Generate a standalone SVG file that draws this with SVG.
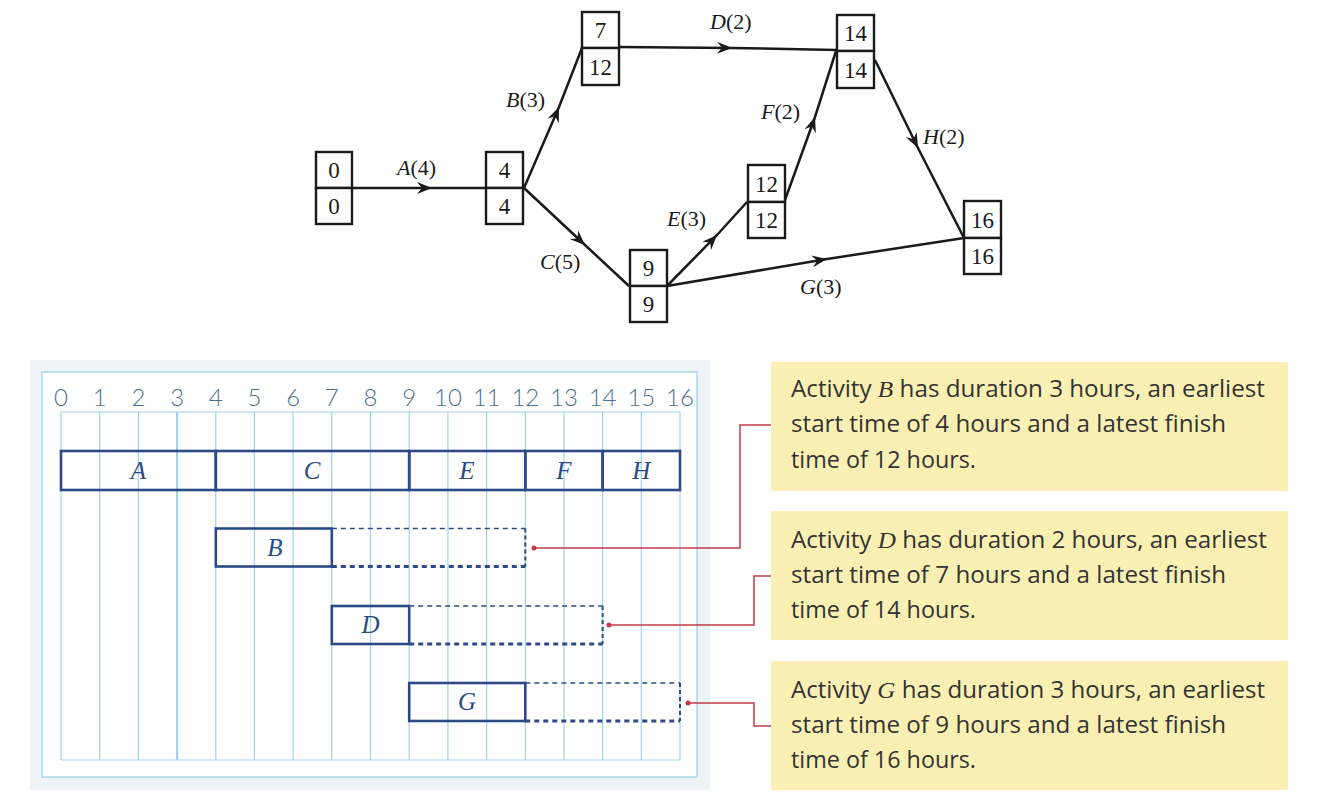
<svg xmlns="http://www.w3.org/2000/svg" width="1334" height="811" viewBox="0 0 1334 811">
<style>
.nb{fill:#fff;stroke:#1a1a1a;stroke-width:2.4}
.nn{font-family:"Liberation Serif",serif;font-size:23px;fill:#1a1a1a;text-anchor:middle}
.el{font-family:"Liberation Serif",serif;font-size:22px;fill:#1a1a1a}
.it{font-style:italic}
.edge{fill:none;stroke:#1a1a1a;stroke-width:2.5;marker-mid:url(#ah)}
.grid{stroke:#9fd4e8;stroke-width:1.2}
.tick{font-family:Lato,"DejaVu Sans",sans-serif;font-weight:300;font-size:24px;fill:#4d6f8e;text-anchor:middle}
.bar{fill:#fff;stroke:#2b4a86;stroke-width:2.6}
.bl{font-family:"Liberation Serif",serif;font-style:italic;font-size:25px;fill:#2b4a86;text-anchor:middle}
.dt{stroke:#2b4a86;stroke-width:1.5;stroke-dasharray:5 4;fill:none}
.db{stroke:#2b4a86;stroke-width:3;stroke-dasharray:5 4;fill:none}
.dv{stroke:#2b4a86;stroke-width:2;stroke-dasharray:4 3;fill:none}
.red{fill:none;stroke:#c23b47;stroke-width:1.5}
.box{fill:#fbf0b4}
.tx{font-family:"Open Sans","Liberation Sans",sans-serif;font-size:23px;fill:#333}
.tx .v{font-family:"Liberation Serif",serif;font-style:italic;font-size:24px}
</style>
<defs>
<marker id="ah" markerUnits="userSpaceOnUse" markerWidth="20" markerHeight="14" viewBox="-16 -7 18 14" refX="0" refY="0" orient="auto">
<path d="M0,0 L-15,-6 L-10,0 L-15,6 Z" fill="#1a1a1a"/>
</marker>
</defs>

<g id="connectors">
<path class="edge" d="M352,188 L432,188 L485,188"/>
<path class="edge" d="M524,188 L559,107 L582,48"/>
<path class="edge" d="M524,188 L585,245 L629,286"/>
<path class="edge" d="M619,47 L732,48 L836,50"/>
<path class="edge" d="M667,286 L717,235 L747,202"/>
<path class="edge" d="M785,200 L815,117 L836,51"/>
<path class="edge" d="M875,60 L918,148 L964,238"/>
<path class="edge" d="M667,286 L827,259 L964,238"/>
</g>

<g id="edge-labels">
<text class="el" x="397" y="175"><tspan class="it">A</tspan>(4)</text>
<text class="el" x="506" y="107"><tspan class="it">B</tspan>(3)</text>
<text class="el" x="540" y="269"><tspan class="it">C</tspan>(5)</text>
<text class="el" x="710" y="29"><tspan class="it">D</tspan>(2)</text>
<text class="el" x="667" y="226"><tspan class="it">E</tspan>(3)</text>
<text class="el" x="761" y="119"><tspan class="it">F</tspan>(2)</text>
<text class="el" x="923" y="144"><tspan class="it">H</tspan>(2)</text>
<text class="el" x="800" y="294"><tspan class="it">G</tspan>(3)</text>
</g>

<g id="node-0"><rect class="nb" x="316" y="152" width="36" height="36"/><rect class="nb" x="316" y="188" width="36" height="36"/><text class="nn" x="334" y="178">0</text><text class="nn" x="334" y="214">0</text></g>
<g id="node-4"><rect class="nb" x="486" y="152" width="37" height="36"/><rect class="nb" x="486" y="188" width="37" height="36"/><text class="nn" x="504.5" y="178">4</text><text class="nn" x="504.5" y="214">4</text></g>
<g id="node-7"><rect class="nb" x="582" y="12" width="37" height="36"/><rect class="nb" x="582" y="48" width="37" height="37"/><text class="nn" x="600.5" y="38">7</text><text class="nn" x="600.5" y="75">12</text></g>
<g id="node-9"><rect class="nb" x="630" y="250" width="37" height="36"/><rect class="nb" x="630" y="286" width="37" height="36"/><text class="nn" x="648.5" y="276">9</text><text class="nn" x="648.5" y="312">9</text></g>
<g id="node-12"><rect class="nb" x="748" y="165" width="37" height="37"/><rect class="nb" x="748" y="202" width="37" height="36"/><text class="nn" x="766.5" y="192">12</text><text class="nn" x="766.5" y="228">12</text></g>
<g id="node-14"><rect class="nb" x="837" y="15" width="37" height="36"/><rect class="nb" x="837" y="51" width="37" height="37"/><text class="nn" x="855.5" y="41">14</text><text class="nn" x="855.5" y="78">14</text></g>
<g id="node-16"><rect class="nb" x="964" y="201" width="37" height="37"/><rect class="nb" x="964" y="238" width="37" height="36"/><text class="nn" x="982.5" y="228">16</text><text class="nn" x="982.5" y="264">16</text></g>

<g id="gantt">
<rect x="30" y="360" width="680" height="430" fill="#eef3f5"/>
<rect x="42" y="372" width="655" height="405" fill="#fff" stroke="#a8d8ea" stroke-width="1.5"/>
<g class="grid">
<line x1="61" y1="412" x2="680" y2="412"/>
<line x1="61" y1="760" x2="680" y2="760"/>
<line x1="61" y1="412" x2="61" y2="760"/>
<line x1="99.7" y1="412" x2="99.7" y2="760"/>
<line x1="138.4" y1="412" x2="138.4" y2="760"/>
<line x1="177.1" y1="412" x2="177.1" y2="760" stroke-width="2.2"/>
<line x1="215.8" y1="412" x2="215.8" y2="760"/>
<line x1="254.4" y1="412" x2="254.4" y2="760"/>
<line x1="293.1" y1="412" x2="293.1" y2="760"/>
<line x1="331.8" y1="412" x2="331.8" y2="760"/>
<line x1="370.5" y1="412" x2="370.5" y2="760"/>
<line x1="409.2" y1="412" x2="409.2" y2="760"/>
<line x1="447.9" y1="412" x2="447.9" y2="760"/>
<line x1="486.6" y1="412" x2="486.6" y2="760"/>
<line x1="525.3" y1="412" x2="525.3" y2="760"/>
<line x1="564" y1="412" x2="564" y2="760"/>
<line x1="602.6" y1="412" x2="602.6" y2="760"/>
<line x1="641.3" y1="412" x2="641.3" y2="760"/>
<line x1="680" y1="412" x2="680" y2="760"/>
</g>
<g>
<text class="tick" x="61" y="406">0</text>
<text class="tick" x="99.7" y="406">1</text>
<text class="tick" x="138.4" y="406">2</text>
<text class="tick" x="177.1" y="406">3</text>
<text class="tick" x="215.8" y="406">4</text>
<text class="tick" x="254.4" y="406">5</text>
<text class="tick" x="293.1" y="406">6</text>
<text class="tick" x="331.8" y="406">7</text>
<text class="tick" x="370.5" y="406">8</text>
<text class="tick" x="409.2" y="406">9</text>
<text class="tick" x="447.9" y="406">10</text>
<text class="tick" x="486.6" y="406">11</text>
<text class="tick" x="525.3" y="406">12</text>
<text class="tick" x="564" y="406">13</text>
<text class="tick" x="602.6" y="406">14</text>
<text class="tick" x="641.3" y="406">15</text>
<text class="tick" x="680" y="406">16</text>
</g>
</g>

<g id="bar-A"><rect class="bar" x="61" y="451" width="154.8" height="39" fill-opacity="0"/><text class="bl" x="138.4" y="479">A</text></g>
<g id="bar-C"><rect class="bar" x="215.8" y="451" width="193.4" height="39" fill-opacity="0" stroke-width="3"/><text class="bl" x="312" y="479">C</text></g>
<g id="bar-E"><rect class="bar" x="409.2" y="451" width="116.1" height="39" fill-opacity="0"/><text class="bl" x="467" y="479">E</text></g>
<g id="bar-F"><rect class="bar" x="525.3" y="451" width="77.3" height="39" fill-opacity="0"/><text class="bl" x="564" y="479">F</text></g>
<g id="bar-H"><rect class="bar" x="602.6" y="451" width="77.4" height="39" fill-opacity="0"/><text class="bl" x="641.3" y="479">H</text></g>

<g id="bar-B">
<path class="dt" d="M331.8,528.5 H525.3"/><path class="db" d="M331.8,566.5 H525.3"/><path class="dv" d="M525.3,528.5 V566.5"/>
<rect class="bar" x="215.8" y="528.5" width="116" height="38" fill-opacity="0"/><text class="bl" x="275" y="556">B</text>
</g>
<g id="bar-D">
<path class="dt" d="M409.2,606 H602.6"/><path class="db" d="M409.2,644 H602.6"/><path class="dv" d="M602.6,606 V644"/>
<rect class="bar" x="331.8" y="606" width="77.4" height="38" fill-opacity="0"/><text class="bl" x="370.5" y="633">D</text>
</g>
<g id="bar-G">
<path class="dt" d="M525.3,683 H680"/><path class="db" d="M525.3,721 H680"/><path class="dv" d="M680,683 V721"/>
<rect class="bar" x="409.2" y="683" width="116.1" height="38" fill-opacity="0"/><text class="bl" x="467" y="710">G</text>
</g>

<g id="callout-lines">
<path class="red" d="M534,548 H740 V425 H772"/><circle cx="534" cy="548" r="2.5" fill="#c23b47"/>
<path class="red" d="M609,625 H754 V576 H772"/><circle cx="609" cy="625" r="2.5" fill="#c23b47"/>
<path class="red" d="M688,703 H754 V726 H772"/><circle cx="688" cy="703" r="2.5" fill="#c23b47"/>
</g>

<g id="note-B">
<rect class="box" x="771" y="362" width="517" height="129"/>
<text class="tx" x="791" y="397" textLength="474" lengthAdjust="spacingAndGlyphs">Activity <tspan class="v">B</tspan> has duration 3 hours, an earliest</text>
<text class="tx" x="791" y="432" textLength="435" lengthAdjust="spacingAndGlyphs">start time of 4 hours and a latest finish</text>
<text class="tx" x="791" y="468" textLength="185" lengthAdjust="spacingAndGlyphs">time of 12 hours.</text>
</g>
<g id="note-D">
<rect class="box" x="771" y="511" width="517" height="129"/>
<text class="tx" x="791" y="548" textLength="476" lengthAdjust="spacingAndGlyphs">Activity <tspan class="v">D</tspan> has duration 2 hours, an earliest</text>
<text class="tx" x="791" y="583" textLength="435" lengthAdjust="spacingAndGlyphs">start time of 7 hours and a latest finish</text>
<text class="tx" x="791" y="618" textLength="185" lengthAdjust="spacingAndGlyphs">time of 14 hours.</text>
</g>
<g id="note-G">
<rect class="box" x="771" y="661" width="517" height="129"/>
<text class="tx" x="791" y="698" textLength="474" lengthAdjust="spacingAndGlyphs">Activity <tspan class="v">G</tspan> has duration 3 hours, an earliest</text>
<text class="tx" x="791" y="733" textLength="435" lengthAdjust="spacingAndGlyphs">start time of 9 hours and a latest finish</text>
<text class="tx" x="791" y="768" textLength="185" lengthAdjust="spacingAndGlyphs">time of 16 hours.</text>
</g>
</svg>
